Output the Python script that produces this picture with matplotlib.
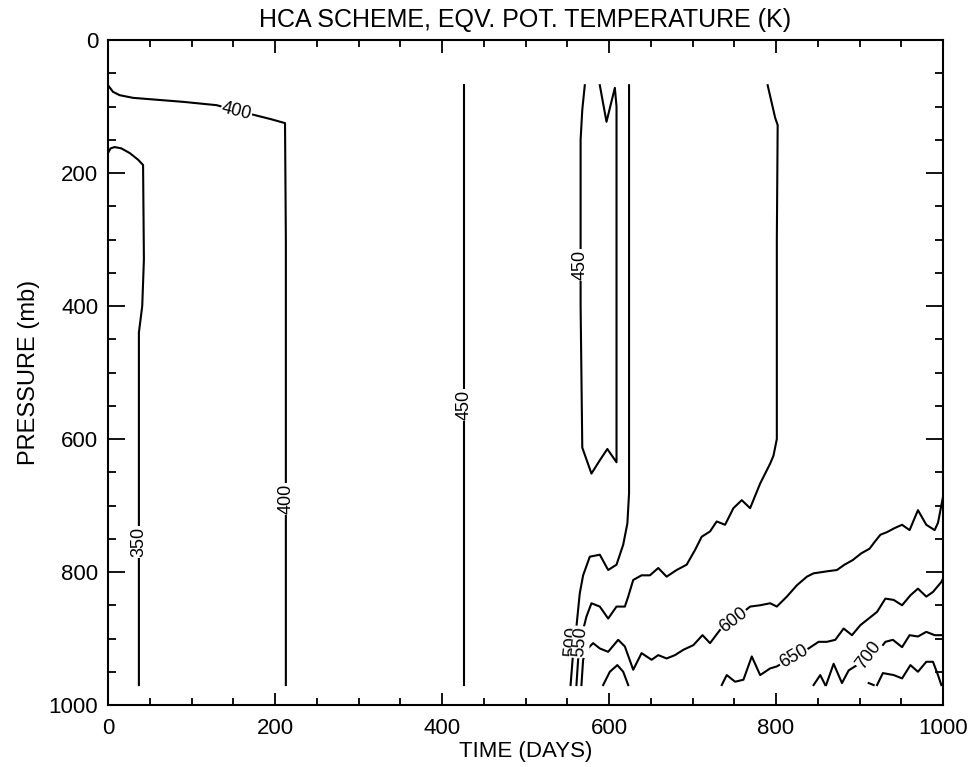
import numpy as np
import matplotlib.pyplot as plt

# contour lines: time (days), pressure (mb)
c350_t = [0, 3, 8, 16, 26, 36, 42, 43, 41, 37, 37]
c350_p = [170, 163, 161, 163, 170, 180, 188, 330, 400, 440, 970]

c400_t = [0, 6, 14, 30, 60, 90, 130, 176, 195, 212, 213, 213]
c400_p = [68, 78, 83, 87, 90, 93, 98, 113, 119, 125, 300, 970]

c450a_t = [426, 426]
c450a_p = [68, 970]

c450b_t = [571, 568, 566, 566, 568, 579, 589, 598, 609, 609, 609, 607, 597, 589]
c450b_p = [68, 105, 150, 400, 613, 652, 632, 615, 635, 300, 100, 72, 123, 68]

c500_t = [624, 624, 624, 622, 617, 609, 599, 589, 577, 569, 565, 561, 557, 554]
c500_p = [68, 400, 682, 727, 759, 789, 797, 774, 777, 805, 832, 882, 922, 970]

c550_t = [790, 799, 802, 801, 801, 797, 793, 781, 769, 759, 749, 739, 729, 721,
          711, 703, 693, 681, 669, 659, 649, 639, 629, 623, 619, 609, 599, 589,
          579, 573, 569, 563, 561]
c550_p = [68, 117, 128, 300, 600, 625, 637, 667, 704, 692, 704, 729, 724, 739,
          747, 767, 789, 797, 807, 794, 805, 805, 812, 837, 852, 852, 870, 852,
          847, 867, 887, 932, 970]

c600_t = [567, 569, 573, 581, 589, 599, 611, 619, 629, 639, 651, 659, 669, 679,
          689, 701, 712, 721, 733, 749, 769, 781, 793, 801, 813, 825, 837, 845,
          861, 873, 882, 892, 902, 912, 918, 925, 933, 942, 951, 960, 970, 980,
          990, 994, 1000]
c600_p = [970, 932, 917, 907, 915, 920, 902, 912, 947, 922, 932, 925, 930, 925,
          917, 910, 895, 907, 887, 872, 852, 850, 847, 852, 837, 820, 807, 802,
          799, 797, 789, 782, 772, 765, 755, 744, 740, 734, 729, 737, 707, 729,
          737, 726, 687]

c650a_t = [593, 601, 610, 617, 623]
c650a_p = [970, 950, 940, 950, 970]

c650b_t = [735, 741, 751, 761, 771, 781, 793, 801, 821, 839, 851, 861, 871, 881,
           891, 901, 911, 921, 931, 941, 951, 961, 970, 980, 988, 998, 1000]
c650b_p = [970, 955, 965, 962, 927, 955, 945, 942, 927, 915, 905, 905, 902, 885,
           895, 880, 870, 860, 840, 842, 850, 835, 825, 837, 830, 815, 810]

c700a_t = [845, 853, 859]
c700a_p = [970, 955, 970]

c700b_t = [860, 869, 879, 887, 897, 911, 925, 931, 940, 951, 960, 970, 980, 990, 1000]
c700b_p = [970, 938, 967, 948, 940, 925, 915, 905, 902, 913, 895, 897, 890, 895, 895]

c750a_t = [911, 917]
c750a_p = [967, 970]

c750b_t = [921, 928, 941, 951, 961, 970, 980, 988, 994, 998]
c750b_p = [970, 952, 955, 960, 940, 950, 935, 935, 955, 970]

lines = [(c350_t, c350_p), (c400_t, c400_p), (c450a_t, c450a_p), (c450b_t, c450b_p),
         (c500_t, c500_p), (c550_t, c550_p), (c600_t, c600_p), (c650a_t, c650a_p),
         (c650b_t, c650b_p), (c700a_t, c700a_p), (c700b_t, c700b_p),
         (c750a_t, c750a_p), (c750b_t, c750b_p)]

# contour labels: text, time, pressure, angle
lab_text = ["400", "350", "400", "450", "450", "500", "550", "600", "650", "700"]
lab_t = [154, 37, 213, 426, 566, 556, 566, 749, 821, 911]
lab_p = [107, 755, 690, 549, 338, 905, 905, 872, 927, 925]
lab_rot = [-14, 90, 90, 90, 90, 85, 85, 37, 30, 53]

fig = plt.figure(figsize=(9.71, 7.67), dpi=100)
ax = fig.add_axes([108 / 971, 1 - 705 / 767, 835 / 971, 665 / 767])

for t, p in lines:
    ax.plot(t, p, color="black", lw=1.5)

for s, t, p, r in zip(lab_text, lab_t, lab_p, lab_rot):
    ax.text(t, p, s, rotation=r, ha="center", va="center", rotation_mode="anchor",
            fontsize=13, family="Liberation Sans",
            bbox=dict(fc="white", ec="none", pad=0.5))

ax.set_xlim(0, 1000)
ax.set_ylim(1000, 0)
ax.set_xticks(np.arange(0, 1001, 200))
ax.set_xticks(np.arange(0, 1001, 50), minor=True)
ax.set_yticks(np.arange(0, 1001, 200))
ax.set_yticks(np.arange(0, 1001, 50), minor=True)
ax.tick_params(which="both", direction="in", top=True, right=True, width=1.3)
ax.tick_params(axis="x", which="major", length=9, pad=9)
ax.tick_params(axis="x", which="minor", length=5)
ax.tick_params(axis="y", which="major", length=12, pad=7)
ax.tick_params(axis="y", which="minor", length=6)
for sp in ax.spines.values():
    sp.set_linewidth(1.5)

for lb in ax.get_yticklabels():
    lb.set_family("Liberation Sans")
    lb.set_fontsize(16)
for lb in ax.get_xticklabels():
    lb.set_family("Liberation Sans")
    lb.set_fontsize(16)

ax.set_xlabel("TIME (DAYS)", fontsize=16, family="Liberation Sans", labelpad=2)
ax.set_ylabel("PRESSURE (mb)", fontsize=17, family="Liberation Sans", labelpad=6)
ax.set_title("HCA SCHEME, EQV. POT. TEMPERATURE (K)", fontsize=18,
             family="Liberation Sans", pad=9)

fig.savefig("out.png", dpi=100)
